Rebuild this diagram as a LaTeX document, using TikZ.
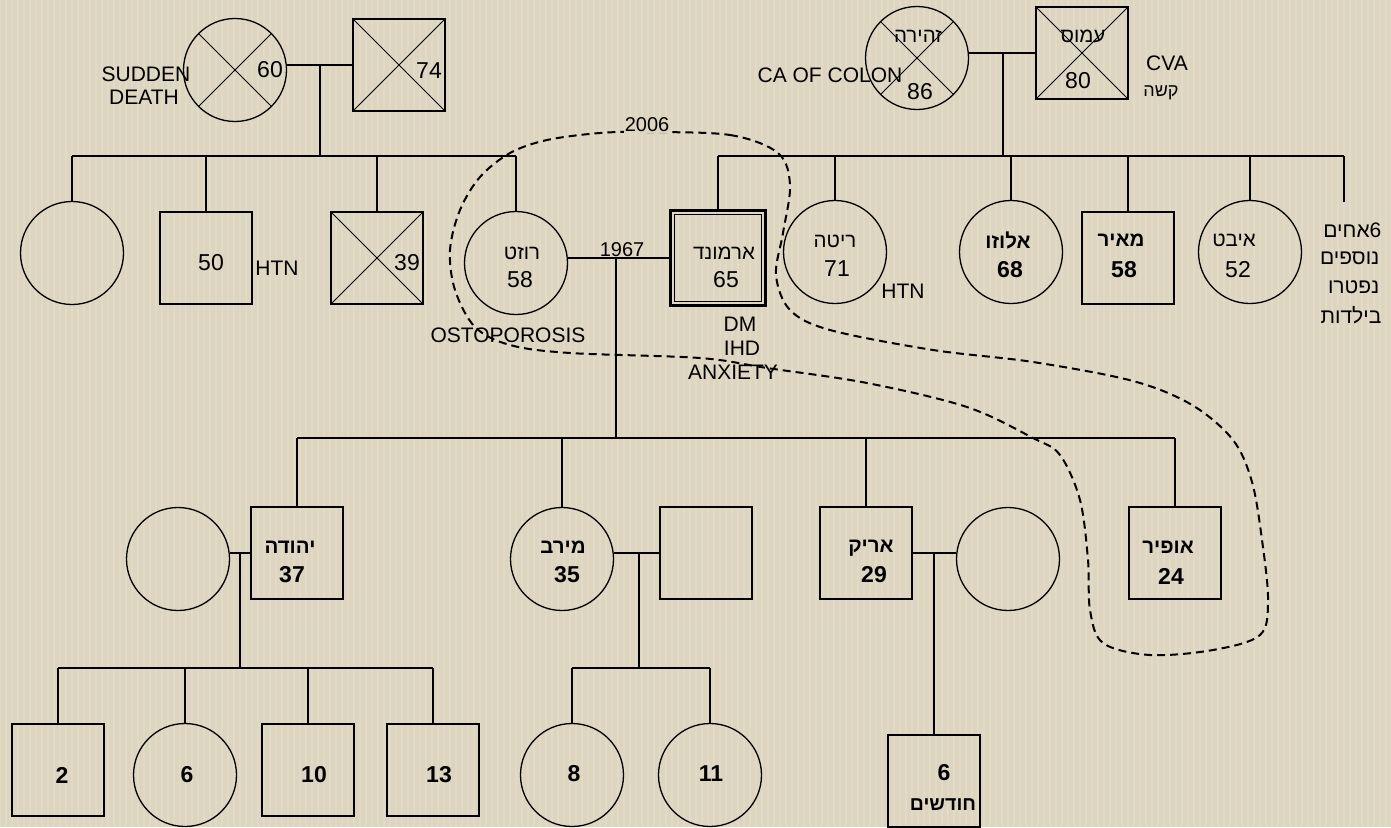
\documentclass[tikz,border=0pt]{standalone}
\usepackage{fontspec}
\setmainfont{Liberation Sans}
\newfontfamily\hebfont[Script=Hebrew]{Liberation Sans}
\TeXXeTstate=1
\newcommand\heb[1]{{\hebfont\beginR #1\endR}}
\definecolor{bgc}{RGB}{221,213,192}
\begin{document}
\begin{tikzpicture}[x=1pt,y=-1pt,line width=1.3pt,
  person/.style={draw,inner sep=0pt},
  fem/.style={person,circle,minimum size=103pt},
  mal/.style={person,rectangle,minimum size=92pt},
  lbl/.style={inner sep=0pt,font=\fontsize{21}{24}\selectfont},
  nm/.style={inner sep=0pt,font=\fontsize{23}{27}\selectfont},
  nmb/.style={inner sep=0pt,font=\fontsize{23}{27}\selectfont\bfseries},
  hn/.style={inner sep=0pt,font=\fontsize{20.5}{24}\selectfont},
  hnb/.style={inner sep=0pt,font=\fontsize{20.5}{24}\selectfont\bfseries},
  yr/.style={inner sep=0pt,font=\fontsize{20}{24}\selectfont},
  boundary/.style={line width=2pt,dash pattern=on 8pt off 5pt}]
\useasboundingbox (0,0) rectangle (1391,827);
\fill[bgc] (0,0) rectangle (1391,827);
\draw[white,opacity=0.12,line width=1.2pt] (0,0) grid[step=6] (1391,827);

% ---- generation 1
\node[fem] (gm1) at (235,70) {};
\node[mal] (gf1) at (399,65) {};
\node[fem] (zh) at (917,58) {};
\node[mal] (am) at (1082,53) {};
\foreach \n in {gm1,gf1,zh,am}
  \draw[line width=1pt] (\n.north west) -- (\n.south east) (\n.north east) -- (\n.south west);

% ---- generation 2
\node[fem] (c1) at (72,253) {};
\node[mal] (c2) at (206,258) {};
\node[mal] (c3) at (377,258) {};
\draw[line width=1pt] (c3.north west) -- (c3.south east) (c3.north east) -- (c3.south west);
\node[fem] (rz) at (516,263) {};
\node[mal,line width=3.5pt,minimum size=95pt] (arm) at (718,258) {};
\draw[line width=1.2pt] ([shift={(6,6)}]arm.north west) rectangle ([shift={(-6,-6)}]arm.south east);
\node[fem] (rt) at (835,252) {};
\node[fem] (al) at (1011,252) {};
\node[mal] (mr) at (1128,258) {};
\node[fem] (iv) at (1250,252) {};
\coordinate (endsib) at (1344,202);

% ---- generation 3
\node[fem] (yhw) at (178,559) {};
\node[mal] (yh) at (297,553) {};
\node[fem] (mv) at (562,559) {};
\node[mal] (mvh) at (706,553) {};
\node[mal] (ar) at (866,553) {};
\node[fem] (arw) at (1008,559) {};
\node[mal] (of) at (1175,553) {};

% ---- generation 4
\node[mal] (g1) at (58,770) {};
\node[fem] (g2) at (185,775) {};
\node[mal] (g3) at (308,770) {};
\node[mal] (g4) at (433,770) {};
\node[fem] (g5) at (572,775) {};
\node[fem] (g6) at (710,775) {};
\node[mal] (g7) at (934,781) {};

% ---- connectors
\coordinate (sibA) at (0,156);
\coordinate (sibC) at (0,438);
\coordinate (sibD) at (0,668);
% family A
\coordinate (jA) at (320,65);
\draw (gf1.west) -- (gm1.east |- gf1.west);
\draw (jA) -- (jA |- sibA);
\draw (c1.north |- sibA) -- (rz.north |- sibA);
\foreach \n in {c1,c2,c3,rz} \draw (\n.north) -- (\n.north |- sibA);
% family B
\coordinate (jB) at (1003,53);
\draw (am.west) -- (zh.east |- am.west);
\draw (jB) -- (jB |- sibA);
\draw (arm.north |- sibA) -- (endsib |- sibA);
\foreach \n in {arm,rt,al,mr,iv} \draw (\n.north) -- (\n.north |- sibA);
\draw (endsib) -- (endsib |- sibA);
% family C
\coordinate (jC) at (616,258);
\draw (arm.west) -- (rz.east |- arm.west);
\draw (jC) -- (jC |- sibC);
\draw (yh.north |- sibC) -- (of.north |- sibC);
\foreach \n in {yh,mv,ar,of} \draw (\n.north) -- (\n.north |- sibC);
% family D
\coordinate (jD) at (240,553);
\draw (yh.west) -- (yhw.east |- yh.west);
\draw (jD) -- (jD |- sibD);
\draw (g1.north |- sibD) -- (g4.north |- sibD);
\foreach \n in {g1,g2,g3,g4} \draw (\n.north) -- (\n.north |- sibD);
% family E
\coordinate (jE) at (639,553);
\draw (mvh.west) -- (mv.east |- mvh.west);
\draw (jE) -- (jE |- sibD);
\draw (g5.north |- sibD) -- (g6.north |- sibD);
\foreach \n in {g5,g6} \draw (\n.north) -- (\n.north |- sibD);
% family F
\coordinate (jF) at (934,553);
\draw (ar.east) -- (arw.west |- ar.east);
\draw (jF) -- (g7.north);

% ---- household boundary
\draw[boundary] plot[smooth cycle,tension=0.55] coordinates {
 (647,132) (730,135) (778,153) (790,185) (783,233) (776,275) (790,310) (830,330)
 (933,350) (1033,362) (1133,381) (1192,405) (1233,440) (1252,482) (1262,540)
 (1268,600) (1260,635) (1213,650) (1150,655) (1103,643) (1090,610) (1088,560)
 (1080,500) (1060,455) (1033,438) (967,407) (867,383) (767,368) (700,358)
 (570,353) (510,345) (475,327) (455,290) (450,250) (460,210) (480,177) (510,153)
 (547,140) (600,133)};
\node[yr,fill=bgc,inner sep=1pt] (t2006) at (647,125) {2006};

% ---- texts, generation 1
\node[lbl] (tsd1) at (146,74) {SUDDEN};
\node[lbl] (tsd2) at (144,97) {DEATH};
\node[nm] (t60) at (270,70) {60};
\node[nm] (t74) at (429,71) {74};
\node[hn] (tzh) at (918,36) {\heb{זהירה}};
\node[nm] (t86) at (920,92) {86};
\node[hn] (tam) at (1083,36) {\heb{עמוס}};
\node[nm] (t80) at (1078,81) {80};
\node[lbl] (tca) at (830,75) {CA OF COLON};
\node[lbl] (tcva) at (1167,63) {CVA};
\node[inner sep=0pt,font=\fontsize{18}{21}\selectfont] (tksh) at (1161,93) {\heb{קשה}};

% ---- texts, generation 2
\node[nm] (t50) at (211,263) {50};
\node[lbl] (thtn1) at (277,268) {HTN};
\node[nm] (t39) at (407,263) {39};
\node[hn] (trz) at (522,253) {\heb{רוזט}};
\node[nm] (trz58) at (520,280) {58};
\node[yr] (t1967) at (622,250) {1967};
\node[hn] (tarm) at (724,253) {\heb{ארמונד}};
\node[nm] (t65) at (726,280) {65};
\node[lbl] (tdm) at (740,324) {DM};
\node[lbl] (tihd) at (742,348) {IHD};
\node[lbl] (tanx) at (733,372) {ANXIETY};
\node[lbl] (tost) at (508,335) {OSTOPOROSIS};
\node[hn] (trt) at (835,241) {\heb{ריטה}};
\node[nm] (t71) at (837,269) {71};
\node[lbl] (thtn2) at (903,291) {HTN};
\node[hnb] (tal) at (1008,240) {\heb{אלוזו}};
\node[nmb] (t68) at (1010,270) {68};
\node[hnb] (tmr) at (1121,240) {\heb{מאיר}};
\node[nmb] (t58b) at (1124,270) {58};
\node[hn] (tiv) at (1234,240) {\heb{איבט}};
\node[nm] (t52) at (1238,270) {52};
\node[lbl,anchor=east] (tx1) at (1382,230) {\heb{אחים}6};
\node[lbl,anchor=east] (tx2) at (1380,258) {\heb{נוספים}};
\node[lbl,anchor=east] (tx3) at (1380,287) {\heb{נפטרו}};
\node[lbl,anchor=east] (tx4) at (1382,315) {\heb{בילדות}};

% ---- texts, generation 3
\node[hnb] (tyh) at (290,547) {\heb{יהודה}};
\node[nmb] (t37) at (292,575) {37};
\node[hnb] (tmv) at (563,547) {\heb{מירב}};
\node[nmb] (t35) at (567,575) {35};
\node[hnb] (tar) at (871,548) {\heb{אריק}};
\node[nmb] (t29) at (874,575) {29};
\node[hnb] (tof) at (1168,547) {\heb{אופיר}};
\node[nmb] (t24) at (1171,576) {24};

% ---- texts, generation 4
\node[nmb] (t2) at (62,775) {2};
\node[nmb] (t6) at (187,775) {6};
\node[nmb] (t10) at (314,775) {10};
\node[nmb] (t13) at (439,775) {13};
\node[nmb] (t8) at (574,774) {8};
\node[nmb] (t11) at (711,774) {11};
\node[nmb] (t6m) at (944,773) {6};
\node[inner sep=0pt,font=\fontsize{19.5}{23}\selectfont\bfseries] (tmonths) at (943,805) {\heb{חודשים}};
\end{tikzpicture}
\end{document}
